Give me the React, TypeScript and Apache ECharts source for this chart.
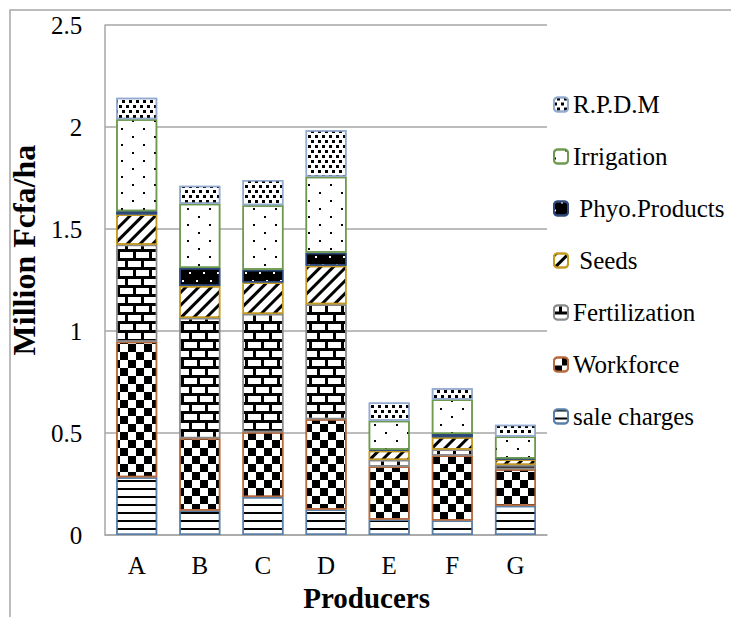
import React, { useEffect, useRef } from "react";
import * as echarts from "echarts";

const categories = ["A", "B", "C", "D", "E", "F", "G"];
const saleCharges = [0.283, 0.12, 0.187, 0.125, 0.077, 0.072, 0.144];
const workforce = [0.664, 0.355, 0.317, 0.443, 0.259, 0.318, 0.179];
const fertilization = [0.476, 0.589, 0.579, 0.563, 0.032, 0.029, 0.021];
const seeds = [0.148, 0.157, 0.155, 0.189, 0.045, 0.061, 0.027];
const phyoProducts = [0.016, 0.088, 0.062, 0.064, 0.005, 0.016, 0.005];
const irrigation = [0.451, 0.315, 0.316, 0.372, 0.142, 0.168, 0.107];
const rpdm = [0.105, 0.088, 0.124, 0.228, 0.09, 0.056, 0.058];

const seriesNames = ["sale charges", "Workforce", "Fertilization", " Seeds", " Phyo.Products", "Irrigation", "R.P.D.M"];
const yTicks = [0, 0.5, 1, 1.5, 2, 2.5];

const FONT = "'Liberation Serif', 'Times New Roman', serif";

export default function App() {
  const ref = useRef<HTMLDivElement>(null);
  useEffect(() => {
    if (!ref.current) return;
    const chart = echarts.init(ref.current, undefined, { renderer: "svg" });

    const base = (fill: string, decal: any, border: string) => ({
      color: fill,
      borderColor: border,
      borderWidth: 1.5,
      decal: { symbolKeepAspect: false, symbolSize: 1, symbol: "rect", ...decal },
    });

    const styles = [
      base("#ffffff", { color: "#000", dashArrayX: [[8, 0]], dashArrayY: [2, 6] }, "#5b80a8"),
      base("#ffffff", { color: "#000", dashArrayX: [[8, 8], [0, 8, 8, 0]], dashArrayY: [8, 0] }, "#b86a3c"),
      base("#000000", { color: "#fff", dashArrayX: [[13, 3], [5, 3, 8, 0]], dashArrayY: [6, 3] }, "#8a8a8a"),
      base("#ffffff", { color: "#000", dashArrayX: [[10, 0]], dashArrayY: [3, 6], rotation: -Math.PI / 4 }, "#c49a22"),
      base("#000000", { color: "#fff", dashArrayX: [[2, 12], [0, 7, 2, 5]], dashArrayY: [2, 6] }, "#2f4b7c"),
      base("#ffffff", { color: "#000", dashArrayX: [[2, 20], [0, 11, 2, 9]], dashArrayY: [2, 6] }, "#6d9a4f"),
      base("#ffffff", { color: "#000", dashArrayX: [[3, 4], [0, 3, 3, 1]], dashArrayY: [3, 2] }, "#94abd0"),
    ];
    const datas = [saleCharges, workforce, fertilization, seeds, phyoProducts, irrigation, rpdm];

    const option: any = {
      animation: false,
      backgroundColor: "#ffffff",
      textStyle: { fontFamily: FONT, color: "#000" },
      grid: { left: 98, right: 184, top: 25, bottom: 70.3, containLabel: false },
      legend: {
        orient: "vertical",
        left: 548,
        top: 87,
        itemWidth: 14,
        itemHeight: 14,
        itemGap: 27,
        data: [...seriesNames].reverse(),
        textStyle: { fontFamily: FONT, fontSize: 25, color: "#000", lineHeight: 25 },
      },
      graphic: [
        {
          type: "rect",
          silent: true,
          z: -10,
          shape: { x: 10, y: 10, width: 1000, height: 1000 },
          style: { fill: "none", stroke: "#a6a6a6", lineWidth: 1.5 },
        },
      ],
      xAxis: {
        type: "category",
        data: categories,
        axisLine: { show: true, lineStyle: { color: "#a6a6a6", width: 1.5 } },
        axisTick: { show: false },
        axisLabel: { fontFamily: FONT, fontSize: 25, color: "#000", margin: 18 },
        name: "Producers",
        nameLocation: "middle",
        nameGap: 38,
        nameTextStyle: { fontFamily: FONT, fontSize: 29, fontWeight: "bold", color: "#000", padding: [0, 0, 0, 81] },
      },
      yAxis: {
        type: "value",
        min: 0,
        max: 2.5,
        interval: 0.5,
        axisLine: { show: true, lineStyle: { color: "#a6a6a6", width: 1.5 } },
        axisTick: { show: false },
        splitLine: { show: true, lineStyle: { color: "#a6a6a6", width: 1.5 } },
        axisLabel: {
          fontFamily: FONT,
          fontSize: 25,
          color: "#000",
          margin: 23,
          formatter: (v: number) => (yTicks.includes(v) ? String(v) : ""),
        },
        name: "Million Fcfa/ha",
        nameLocation: "middle",
        nameRotate: 90,
        nameGap: 36,
        nameTextStyle: { fontFamily: FONT, fontSize: 32, fontWeight: "bold", color: "#000", padding: [0, 0, 0, 60] },
      },
      series: seriesNames.map((name, i) => ({
        name,
        type: "bar",
        stack: "total",
        barWidth: 41,
        data: datas[i],
        itemStyle: styles[i],
        emphasis: { disabled: true },
      })),
    };
    chart.setOption(option);
    return () => chart.dispose();
  }, []);
  return <div ref={ref} style={{ position: "fixed", left: 0, top: 0, width: 731, height: 617 }} />;
}
